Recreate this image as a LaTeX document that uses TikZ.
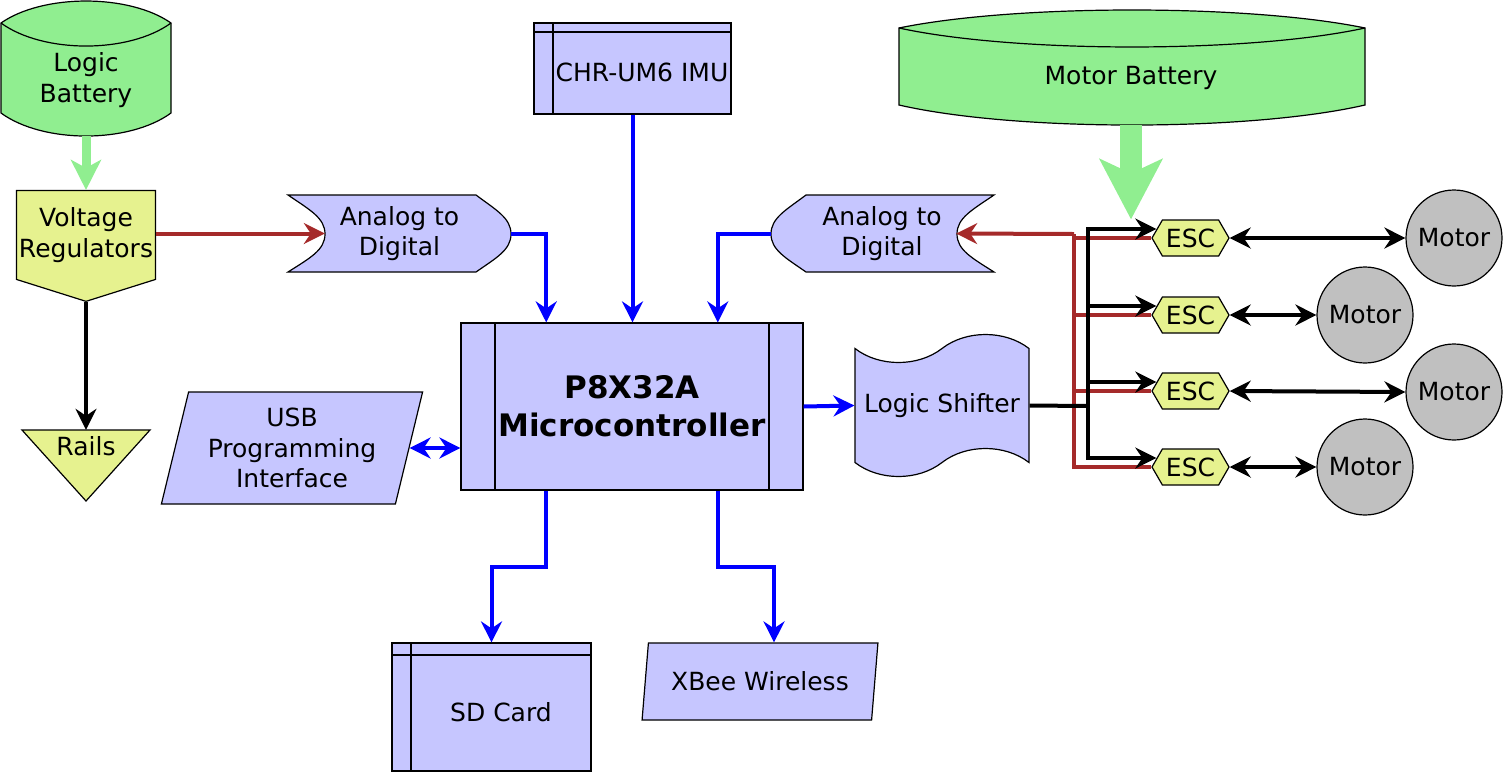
\documentclass[tikz,border=0pt]{standalone}
\usepackage{fontspec}
\setmainfont{DejaVu Sans}
\usetikzlibrary{shapes.geometric,shapes.symbols,calc,arrows.meta}
\definecolor{partblue}{HTML}{C6C6FF}
\definecolor{cellgreen}{HTML}{90EE90}
\definecolor{regyellow}{HTML}{E6F28F}
\definecolor{motorgray}{HTML}{C0C0C0}
\definecolor{supplyred}{HTML}{A52A2A}
\tikzset{
    block filldraw/.style={% fill and thin outline
        draw=black, fill=#1, line width=1.2pt},
    block text/.style={% text only, sized like the outline drawn under it
        inner sep=0pt, align=center},
    storage/.style={% box with a header strip and a left strip
        block filldraw=partblue, rectangle, inner sep=0pt, path picture={
            \draw[line width=1.2pt] ([yshift=-#1]path picture bounding box.north west) -- ([yshift=-#1]path picture bounding box.north east);
            \draw[line width=1.2pt] ([xshift=19pt]path picture bounding box.north west) -- ([xshift=19pt]path picture bounding box.south west);}},
    process/.style={% box with two side strips
        block filldraw=partblue, rectangle, inner sep=0pt, align=center, path picture={
            \draw[line width=1.2pt] ([xshift=34pt]path picture bounding box.north west) -- ([xshift=34pt]path picture bounding box.south west);
            \draw[line width=1.2pt] ([xshift=-34pt]path picture bounding box.north east) -- ([xshift=-34pt]path picture bounding box.south east);}},
    esc/.style={% pointed at both ends
        block filldraw=regyellow, signal, signal to=east and west, signal pointer angle=120,
        minimum width=77pt, minimum height=36pt, inner sep=0pt},
    motor/.style={block filldraw=motorgray, circle, minimum size=96pt, inner sep=0pt},
    wire/.style={line width=4pt, draw=#1}}

\begin{document}
\begin{tikzpicture}[x=1pt, y=-1pt, font=\fontsize{25}{30.5}\selectfont, >={Stealth[length=21pt,width=21pt,inset=7pt]}]
\useasboundingbox (0,0) rectangle (1504,772);
% batteries
\filldraw[block filldraw=cellgreen] (1,23) .. controls (43,-6.3) and (129,-6.3) .. (171,23) -- (171,113) .. controls (129,143.7) and (43,143.7) .. (1,113) -- cycle;
\draw[line width=1.2pt] (1,23) .. controls (43,53.7) and (129,53.7) .. (171,23);
\filldraw[block filldraw=cellgreen] (899,28) .. controls (1015,4) and (1249,4) .. (1365,28) -- (1365,105) .. controls (1249,131.7) and (1015,131.7) .. (899,105) -- cycle;
\draw[line width=1.2pt] (899,28) .. controls (1015,53.3) and (1249,53.3) .. (1365,28);
% analog to digital
\filldraw[block filldraw=partblue] (288,195) -- (476,195) .. controls (496,210) and (511,218) .. (511,234) .. controls (511,250) and (496,258) .. (476,272) -- (288,272) .. controls (310,258) and (325,250) .. (325,234) .. controls (325,218) and (310,210) .. (288,195) -- cycle;
\filldraw[block filldraw=partblue] (994,195) -- (806,195) .. controls (786,210) and (771,218) .. (771,234) .. controls (771,250) and (786,258) .. (806,272) -- (994,272) .. controls (972,258) and (957,250) .. (957,234) .. controls (957,218) and (972,210) .. (994,195) -- cycle;
% rails
\filldraw[block filldraw=regyellow] (22,430) -- (150,430) -- (86,501) -- cycle;

\node[block text, minimum width=170pt, minimum height=112pt] (lbat) at (86,80) {Logic\\Battery};
\node[block text, minimum width=466pt, minimum height=94pt] (mbat) at (1131,78) {Motor Battery};
\node[block text, minimum width=223pt, minimum height=77pt] (adcl) at (399.5,233.5) {Analog to\\Digital};
\node[block text, minimum width=222pt, minimum height=77pt] (adcr) at (882,233.5) {Analog to\\Digital};
\node[block text, minimum height=32pt] (rails) at (86,446) {Rails};
\node[block filldraw=regyellow, signal, signal to=south, signal pointer angle=145, minimum width=139pt, minimum height=110pt, inner sep=0pt, align=center] (vreg) at (86,235) {Voltage\\Regulators};
\node[storage=9pt, minimum width=197pt, minimum height=91pt, text height=27pt] (imu) at (632.5,68.5) {\hspace*{19pt}CHR-UM6 IMU};
\node[process, font=\fontsize{31}{38}\selectfont\bfseries, minimum width=342pt, minimum height=167pt] (mcu) at (632,406.5) {P8X32A\\Microcontroller};
\node[storage=12pt, minimum width=199pt, minimum height=128pt, text height=29pt] (sd) at (491.5,707) {\hspace*{19pt}SD Card};
\node[block filldraw=partblue, trapezium, trapezium left angle=74.5, trapezium right angle=105.5, trapezium stretches, minimum width=262pt, minimum height=112pt, inner sep=0pt, align=center] (usb) at (292,448) {USB\\Programming\\Interface};
\node[block filldraw=partblue, trapezium, trapezium left angle=75.4, trapezium right angle=104.6, trapezium stretches, minimum width=236pt, minimum height=77pt, inner sep=0pt] (xbee) at (760,681.5) {XBee Wireless};
\node[block filldraw=partblue, tape, tape bend top=in and out, tape bend bottom=in and out, tape bend height=28pt, minimum width=174pt, minimum height=142pt, inner sep=0pt] (shifter) at (942,405.5) {Logic Shifter};
\node[esc] (esc1) at (1190.5,238) {ESC};
\node[esc] (esc2) at (1190.5,315) {ESC};
\node[esc] (esc3) at (1190.5,391) {ESC};
\node[esc] (esc4) at (1190.5,467) {ESC};
\node[motor] (mot1) at (1454,238) {Motor};
\node[motor] (mot2) at (1365,315) {Motor};
\node[motor] (mot3) at (1454,392) {Motor};
\node[motor] (mot4) at (1365,467) {Motor};

% power
\draw[wire=cellgreen, line width=9pt, -{Stealth[length=30pt,width=30pt,inset=8pt]}] (lbat.south) -- (vreg.north);
\draw[wire=cellgreen, line width=22pt, -{Stealth[length=60pt,width=62pt,inset=14pt]}] (mbat.south) -- (mbat.south |- esc1.north);
\coordinate (adclin) at ([xshift=37pt]adcl.west);
\coordinate (adcrin) at ([xshift=-37pt]adcr.east);
\draw[wire=supplyred, ->] (vreg.east |- adclin) -- (adclin);
\draw[wire=black, ->] (vreg.south) -- (rails.north);
% data
\draw[wire=blue, ->] (adcl.east) -| ($(mcu.north west)!.25!(mcu.north east)$);
\draw[wire=blue, ->] (imu.south) -- (imu.south |- mcu.north);
\draw[wire=blue, ->] (adcr.west) -| ($(mcu.north west)!.75!(mcu.north east)$);
\draw[wire=blue, ->] (mcu.east) -- (shifter.west);
\draw[wire=blue, <->] (usb.east) -- (usb.east -| mcu.west);
\draw[wire=blue, ->] ($(mcu.south west)!.25!(mcu.south east)$) -- ++(0,76) -| (sd.north);
\draw[wire=blue, ->] ($(mcu.south west)!.75!(mcu.south east)$) -- ++(0,76) -| ([xshift=14pt]xbee.north);
% esc supply
\coordinate (redjoin) at (1074,234);
\draw[wire=supplyred] (esc1.west) -| (redjoin);
\draw[wire=supplyred] (esc2.west) -- (esc2.west -| redjoin);
\draw[wire=supplyred] (esc3.west) -- (esc3.west -| redjoin);
\draw[wire=supplyred] (esc4.west) -| (redjoin);
\draw[wire=supplyred, ->] (redjoin) -- (adcrin);
% esc signal
\coordinate (sigjoin) at (1088,406);
\coordinate (escin1) at ([shift={(5pt,9pt)}]esc1.west);
\coordinate (escin2) at ([shift={(5pt,9pt)}]esc2.west);
\coordinate (escin3) at ([shift={(5pt,9pt)}]esc3.west);
\coordinate (escin4) at ([shift={(5pt,9pt)}]esc4.west);
\draw[wire=black] (shifter.east) -- (sigjoin);
\draw[wire=black, ->] (escin4 -| sigjoin) |- (escin1);
\draw[wire=black, ->] (escin1 -| sigjoin) |- (escin4);
\draw[wire=black, ->] (escin2 -| sigjoin) -- (escin2);
\draw[wire=black, ->] (escin3 -| sigjoin) -- (escin3);
% motors
\draw[wire=black, <->] (esc1.east) -- (mot1.west);
\draw[wire=black, <->] (esc2.east) -- (mot2.west);
\draw[wire=black, <->] (esc3.east) -- (mot3.west);
\draw[wire=black, <->] (esc4.east) -- (mot4.west);
\end{tikzpicture}
\end{document}
